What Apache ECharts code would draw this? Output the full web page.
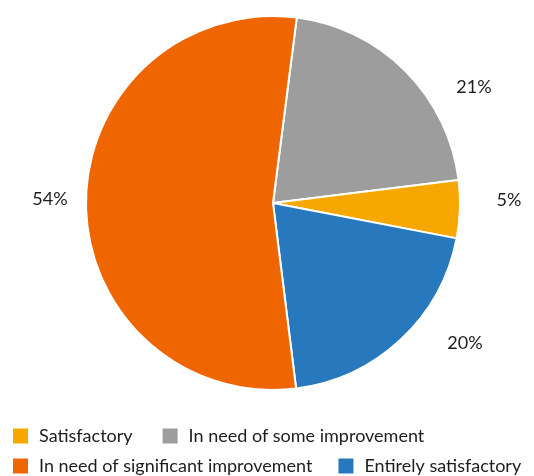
<!DOCTYPE html>
<html>
<head>
<meta charset="utf-8">
<script src="https://cdn.jsdelivr.net/npm/echarts@6/dist/echarts.min.js"></script>
<style>
  html, body { margin: 0; padding: 0; background: #fff; }
  #chart { width: 534px; height: 476px; }
</style>
</head>
<body>
<div id="chart"></div>
<script>
// Survey answers, in the clockwise order the slices are drawn
const categories = [
  'In need of some improvement',
  'Satisfactory',
  'Entirely satisfactory',
  'In need of significant improvement'
];
const shares = [21, 5, 20, 54];
const colors = ['#9d9d9d', '#f7a800', '#2878bd', '#ef6500'];

// Legend rows
const legendRow1 = ['Satisfactory', 'In need of some improvement'];
const legendRow2 = ['In need of significant improvement', 'Entirely satisfactory'];

const FONT = 'Lato';
const TEXT = '#1d1d1b';
const CENTER = [273, 203];
const RADIUS = 187;

// Label placement around the pie, as offsets from the centre
const labelOffsets = [[201, -116], [236, -3], [192, 140], [-223, -4]];

const chart = echarts.init(document.getElementById('chart'), null, { renderer: 'canvas' });

const legendBase = {
  left: 13,
  orient: 'horizontal',
  icon: 'rect',
  itemWidth: 15,
  itemHeight: 15,
  itemStyle: { borderWidth: 0 },
  textStyle: { fontFamily: FONT, fontSize: 18, color: TEXT, padding: [0, 0, 0, 6] },
  padding: 0,
  selectedMode: false
};

chart.setOption({
  animation: false,
  color: colors,
  legend: [
    Object.assign({}, legendBase, { top: 427, itemGap: 30, data: legendRow1 }),
    Object.assign({}, legendBase, { top: 457, itemGap: 26, data: legendRow2 })
  ],
  series: [{
    type: 'pie',
    center: CENTER,
    radius: RADIUS,
    startAngle: 82.7,
    clockwise: true,
    itemStyle: { borderColor: '#ffffff', borderWidth: 2 },
    label: {
      show: true,
      position: 'outside',
      formatter: '{c}%',
      fontFamily: FONT,
      fontSize: 18,
      color: TEXT,
      overflow: 'none',
      width: 60
    },
    labelLine: { show: false },
    labelLayout: function (p) {
      const o = labelOffsets[p.dataIndex];
      return {
        x: CENTER[0] + o[0],
        y: CENTER[1] + o[1],
        align: 'center',
        verticalAlign: 'middle'
      };
    },
    emphasis: { disabled: true },
    data: categories.map((name, i) => ({ name: name, value: shares[i] }))
  }]
});
</script>
</body>
</html>
